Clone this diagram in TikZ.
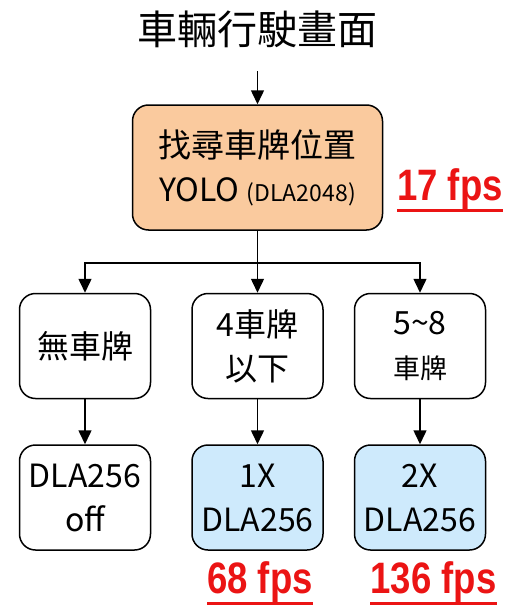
\documentclass[tikz,border=0pt]{standalone}
\usepackage{fontspec}
\setmainfont{Noto Sans CJK TC}
\newfontfamily\fpsfont[FakeStretch=0.83]{Liberation Sans}
\usetikzlibrary{positioning, arrows.meta}
\definecolor{boxorange}{RGB}{250,202,158}
\definecolor{boxblue}{RGB}{206,234,252}
\definecolor{fpsred}{RGB}{235,20,20}

\begin{document}
\begin{tikzpicture}[x=1pt, y=-1pt]
	\tikzstyle{Box} = [ %rounded boxes of the flow
		draw=black,
		line width=1.5pt,
		rounded corners=16pt,
		minimum width=131pt,
		minimum height=105pt,
		align=center,
		inner sep=0pt,
		font=\fontsize{32}{44}\selectfont
	]
	\tikzstyle{Arrow} = [-{Triangle[length=14pt,width=13pt]}, line width=1.5pt]
	\tikzstyle{Fps} = [
		text=fpsred,
		anchor=base,
		inner sep=0pt,
		font=\fpsfont\bfseries\fontsize{44}{44}\selectfont
	]
	\useasboundingbox (0,0) rectangle (513,613);

	\node (title) at (257.5,29) {\fontsize{40}{40}\selectfont 車輛行駛畫面};
	\node[Box, minimum width=250pt, minimum height=125pt, fill=boxorange] (find) at (257.5,167.5)
		{\fontsize{33}{45}\selectfont 找尋車牌位置\\YOLO {\fontsize{23}{45}\selectfont (DLA2048)}};

	\node[Box, below=62pt of find] (few) {4車牌\\以下};
	\node[Box, left=40pt of few] (none) {無車牌};
	\node[Box, right=30pt of few] (many) {5\textasciitilde 8\\{\fontsize{27}{44}\selectfont 車牌}};

	\node[Box, below=45pt of none] (off) {DLA256\\off};
	\node[Box, below=45pt of few, fill=boxblue] (one) {1X\\DLA256};
	\node[Box, below=45pt of many, fill=boxblue] (two) {2X\\DLA256};

	\coordinate (split) at ([yshift=-32pt]find.south);
	\draw[Arrow] ([yshift=-20pt]title.south) -- (find);
	\draw[Arrow] (find) -- (few);
	\draw[Arrow] (split) -| (none);
	\draw[Arrow] (split) -| (many);
	\draw[Arrow] (none) -- (off);
	\draw[Arrow] (few) -- (one);
	\draw[Arrow] (many) -- (two);

	\node[Fps] (fps17) at (450,200) {17 fps};
	\node[Fps] (fps68) at (260,593) {68 fps};
	\node[Fps] (fps136) at (433.5,593) {136 fps};
	\foreach \f in {fps17, fps68, fps136}
		\draw[fpsred, line width=3pt] ([yshift=-1pt]\f.south west) -- ([yshift=-1pt]\f.south east);
\end{tikzpicture}
\end{document}
